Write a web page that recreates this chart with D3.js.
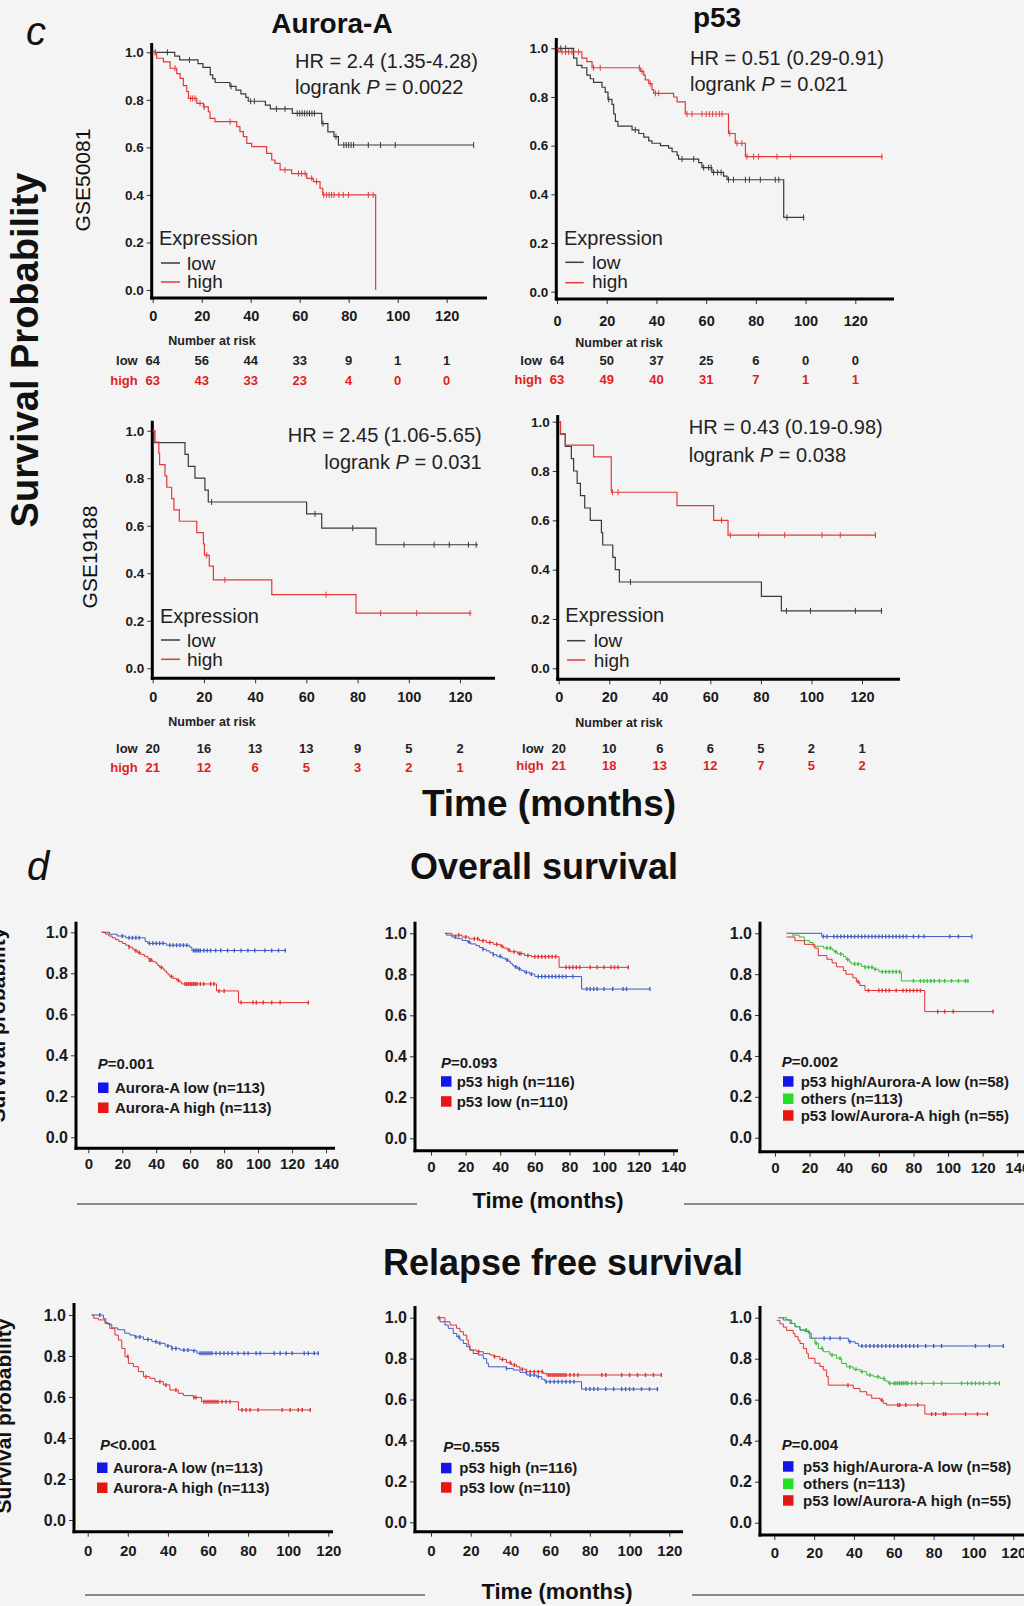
<!DOCTYPE html>
<html><head><meta charset="utf-8">
<script src="https://cdn.jsdelivr.net/npm/d3@7"></script>
<style>body{margin:0;background:#f4f4f4;} svg{display:block;}</style>
</head><body><script>
const FONT = '"Liberation Sans", Arial, Helvetica, sans-serif';

// ---------------- DATA ----------------
const yTickValues = [0, 0.2, 0.4, 0.6, 0.8, 1.0];
const riskTimes = [0, 20, 40, 60, 80, 100, 120];

// c: GSE50081, Aurora-A
const g50081AurLow = [[0,1],[9,0.984],[11,0.968],[18.5,0.952],[20.5,0.937],[23.5,0.905],[24.5,0.889],[25.5,0.873],[31.5,0.857],[34,0.841],[36,0.825],[38,0.81],[39,0.794],[46,0.778],[48,0.762],[57,0.743],[69,0.70],[71.5,0.665],[74,0.645],[75.8,0.61]];
const g50081AurLowCens = [1,6,15,32,40,41.5,50.5,54,59,60,61,62,63,64,65,66,69.5,74.8,78,79,80,81,82,88,93,99,131];
const g50081AurLowEnd = 131;
const g50081AurHigh = [[0,1],[1.6,0.975],[4.4,0.96],[7.1,0.933],[9.8,0.91],[11.2,0.89],[12.5,0.86],[13.9,0.835],[14.6,0.806],[18,0.785],[20.7,0.77],[22.7,0.75],[23.4,0.722],[25.4,0.708],[34.3,0.687],[35.6,0.666],[37,0.645],[38.4,0.617],[40.4,0.603],[46.5,0.575],[48.6,0.547],[49.9,0.533],[52,0.505],[56.7,0.49],[62.9,0.47],[65.6,0.456],[68.3,0.428],[69.4,0.40],[91,0]];
const g50081AurHighCens = [9.1,15.5,16.3,17.3,19.3,21,31.6,54,59.5,60.8,62.2,64.9,66.9,69.8,71,72,73,74,76,77.8,79.9,88,90];
const g50081AurHighEnd = 91;
const g50081AurRiskLow = [64,56,44,33,9,1,1];
const g50081AurRiskHigh = [63,43,33,23,4,0,0];

// c: GSE50081, p53
const g50081P53Low = [[0,1],[6.7,0.96],[8,0.93],[10,0.92],[12,0.89],[13.4,0.875],[14.7,0.86],[18.1,0.84],[19.4,0.82],[20.5,0.79],[22.1,0.77],[22.8,0.73],[23.5,0.70],[24.5,0.68],[30.2,0.665],[32.9,0.65],[34.9,0.635],[36.9,0.62],[38.2,0.61],[41.6,0.60],[44.9,0.59],[46.3,0.575],[48.3,0.56],[48.9,0.545],[57,0.53],[58.3,0.51],[62.3,0.49],[67,0.475],[68.4,0.46],[91.2,0.305]];
const g50081P53LowCens = [1.5,3.5,20.8,31.5,50.3,55,59,61,62,63,64.6,66,69,71,75.8,77.4,81.8,87.8,89.2,92.5,99.2];
const g50081P53LowEnd = 99.5;
const g50081P53High = [[0,1],[0.7,0.985],[10,0.96],[12,0.945],[14.1,0.92],[33.5,0.905],[34.9,0.89],[35.5,0.87],[36.9,0.855],[38.2,0.83],[38.9,0.815],[46.9,0.80],[48.3,0.78],[51.6,0.73],[69,0.65],[71.7,0.61],[75.8,0.555]];
const g50081P53HighCens = [2,3.4,4.7,6,8.7,14.7,17.4,33.1,34.2,37.5,39.6,40.9,52.3,54.3,58.3,60,61.3,62.6,64,65.3,66.4,69.5,72.4,74.4,76.4,79.1,81.1,88.5,93.9,130.7];
const g50081P53HighEnd = 131;
const g50081P53RiskLow = [64,50,37,25,6,0,0];
const g50081P53RiskHigh = [63,49,40,31,7,1,1];

// c: GSE19188, Aurora-A
const g19188AurLow = [[0,1],[0.5,0.95],[12.6,0.90],[13.9,0.85],[16.5,0.80],[20.4,0.75],[21.7,0.70],[60.1,0.65],[66,0.59],[87.2,0.52]];
const g19188AurLowCens = [23,63.4,78.1,98.1,109.9,115.8,123.3,126.3];
const g19188AurLowEnd = 127;
const g19188AurHigh = [[0,1],[0.9,0.952],[2.4,0.905],[2.7,0.857],[4.8,0.81],[5.5,0.762],[7.4,0.714],[8.3,0.667],[10.4,0.619],[17.2,0.571],[19.8,0.524],[20.2,0.476],[22.1,0.43],[23.7,0.372],[46.5,0.31],[79.4,0.232]];
const g19188AurHighCens = [21.1,28.2,67.7,89,103.1,123.9];
const g19188AurHighEnd = 124.5;
const g19188AurRiskLow = [20,16,13,13,9,5,2];
const g19188AurRiskHigh = [21,12,6,5,3,2,1];

// c: GSE19188, p53
const g19188P53Low = [[0,1],[0.7,0.95],[2.6,0.90],[5,0.85],[5.9,0.80],[7.3,0.75],[8.6,0.70],[10.3,0.65],[12.5,0.60],[16.9,0.55],[17.4,0.50],[21.4,0.45],[22.4,0.40],[24,0.35],[80.2,0.292],[88.1,0.233]];
const g19188P53LowCens = [28.4,90.1,99.6,117.4,127.7];
const g19188P53LowEnd = 128;
const g19188P53High = [[0,1],[0.7,0.952],[2.6,0.905],[13.8,0.857],[20.8,0.714],[46.8,0.66],[61.3,0.60],[67,0.54]];
const g19188P53HighCens = [21.3,23.5,64.4,67.9,79.1,89.4,104.2,111.4,125.3];
const g19188P53HighEnd = 125.5;
const g19188P53RiskLow = [20,10,6,6,5,2,1];
const g19188P53RiskHigh = [21,18,13,12,7,5,2];

// d: Overall survival, Aurora-A
const osAurLow = [[7.8,1],[12.5,0.991],[17,0.982],[22,0.973],[33.5,0.955],[35,0.946],[46,0.937],[59.5,0.928],[61,0.911]];
const osAurLowCens = [20,24,26,28,30,36,38,40,42,44,48,50,52,54,56,58,62,63,64,65,66,68,70,72,75,78,82,86,90,94,98,104,108,112,116];
const osAurLowEnd = 116;
const osAurHigh = [[8,1],[10,0.991],[12,0.982],[14,0.973],[16,0.964],[18,0.955],[20,0.946],[22,0.937],[24,0.928],[26,0.919],[27,0.91],[29,0.901],[31,0.892],[33,0.883],[35,0.874],[36,0.865],[38,0.856],[40,0.847],[41,0.838],[42,0.829],[44,0.82],[45,0.811],[46,0.802],[47,0.793],[48,0.784],[50,0.775],[52,0.766],[54,0.757],[55,0.748],[75.5,0.714],[88.5,0.657]];
const osAurHighCens = [24,28,30,36,37,43,49,53,57,58,59,60,61,62,63,64,66,68,72,74,77,80,90,97,99,103,108,113,129.6];
const osAurHighEnd = 129.6;

// d: Overall survival, p53
const osP53High = [[8,1],[9,0.991],[12,0.982],[15,0.974],[18,0.965],[21,0.957],[23,0.948],[26,0.94],[28,0.931],[30,0.922],[32,0.914],[34,0.905],[36,0.896],[38,0.888],[41,0.879],[43,0.87],[45,0.862],[46,0.853],[47,0.844],[48,0.836],[50,0.827],[52,0.818],[54,0.81],[57,0.801],[60,0.789],[87,0.728]];
const osP53HighCens = [14,22,30,36,40,44,49,51,55,58,62,64,66,68,70,72,74,76,78,82,90,92,94,96,100,105,111,113,126.5];
const osP53HighEnd = 126.5;
const osP53Low = [[8,1],[12,0.991],[18,0.982],[22,0.973],[28,0.964],[32,0.955],[36,0.946],[40,0.937],[42,0.928],[44,0.919],[46,0.91],[50,0.901],[54,0.892],[58,0.886],[74,0.834]];
const osP53LowCens = [16,20,25,27,30,34,38,41,45,48,51,52,56,60,62,64,66,68,70,72,78,80,82,84,86,92,96,100,104,106,108,114];
const osP53LowEnd = 114;

// d: Overall survival, combined
const osCombBlue = [[6.7,1],[27,0.984]];
const osCombBlueCens = [28,30,34,36,38,40,42,44,46,48,50,52,54,56,58,60,62,64,66,68,70,72,74,76,80,83,86,101,106,113.7];
const osCombBlueEnd = 113.7;
const osCombGreen = [[6.7,1],[10,0.991],[14,0.982],[17,0.964],[20,0.955],[22,0.937],[28,0.928],[33,0.919],[34,0.91],[36,0.899],[39.5,0.886],[41,0.872],[43,0.86],[44,0.85],[50,0.838],[52,0.834],[57,0.824],[60,0.812],[73,0.767]];
const osCombGreenCens = [30,32,35,38,42,46,48,52,54,56,58,62,64,66,68,70,72,80,84,86,88,90,92,95,98,102,106,110,111.5];
const osCombGreenEnd = 111.5;
const osCombRed = [[6.7,0.982],[11.5,0.964],[17,0.946],[23,0.927],[25,0.891],[30,0.873],[33,0.855],[35.5,0.836],[39.5,0.818],[41,0.80],[45,0.782],[47,0.763],[49,0.745],[52,0.72],[86.5,0.617]];
const osCombRedCens = [48,54,60,62,64,66,70,74,76,78,80,82,84,94,98,103,126];
const osCombRedEnd = 126;

// d: Relapse free survival, Aurora-A
const rfsAurLow = [[2,1],[7.8,0.982],[9,0.964],[10,0.955],[12,0.937],[15,0.928],[18.5,0.911],[21,0.902],[23.5,0.893],[27.8,0.881],[32,0.87],[35,0.862],[38.6,0.849],[42,0.837],[46,0.829],[52,0.826],[54.5,0.813]];
const rfsAurLowCens = [6,24,26,30,34,36,40,42,44,48,50,53,56,57,58,59,60,61,62,64,66,68,70,72,75,78,80,84,86,93,96,99,102,108,110,113,115];
const rfsAurLowEnd = 115;
const rfsAurHigh = [[2,1],[3,0.984],[5.3,0.976],[8.6,0.959],[11,0.935],[13.6,0.902],[15.3,0.878],[17,0.837],[18.6,0.797],[20.3,0.764],[22.8,0.748],[25.3,0.724],[27.8,0.699],[31,0.691],[33.6,0.675],[37.7,0.659],[41,0.634],[45.2,0.618],[47.7,0.607],[52.7,0.598],[56.8,0.577],[75.2,0.537]];
const rfsAurHighCens = [20,29,36,39,44,53,54,58,59,60,61,62,63,64,65,67,69,71,77,79,81,85,97,101,105,107,111];
const rfsAurHighEnd = 111;

// d: Relapse free survival, p53
const rfsP53High = [[2.9,1],[4.5,0.98],[7,0.964],[8.7,0.948],[11.2,0.923],[12.9,0.907],[14.6,0.891],[16.3,0.874],[18,0.858],[19.6,0.842],[21.3,0.825],[23.8,0.818],[26.3,0.80],[28,0.777],[28.9,0.76],[38,0.752],[41.4,0.744],[44.8,0.733],[48.2,0.72],[53.2,0.712],[55.7,0.699],[57.4,0.687],[75.8,0.651]];
const rfsP53HighCens = [14,38,48,50,52,54,58,60,62,64,66,68,70,72,78,80,82,84,88,92,96,98,100,102,106,110,114];
const rfsP53HighEnd = 114.4;
const rfsP53Low = [[3.7,1],[7,0.98],[9.6,0.964],[12.9,0.948],[14.6,0.932],[16.3,0.915],[18,0.891],[18.8,0.866],[19.6,0.842],[23,0.834],[26.3,0.825],[29.7,0.818],[31.4,0.81],[34.7,0.796],[38,0.78],[40.6,0.769],[43.1,0.76],[44.8,0.748],[48.2,0.736],[56.5,0.728],[58.2,0.72]];
const rfsP53LowCens = [4,24,32,36,40,42,46,50,52,54,56,59,60,61,62,63,64,65,66,67,68,70,72,74,86,88,96,100,104,108,112,116];
const rfsP53LowEnd = 116;

// d: Relapse free survival, combined
const rfsCombBlue = [[2,1],[4.5,0.989],[7.9,0.972],[10.4,0.956],[12.9,0.94],[15.4,0.932],[17.9,0.90],[37.2,0.883],[40.5,0.875],[42.2,0.862]];
const rfsCombBlueCens = [25,28,33,38,44,46,48,50,52,54,56,58,60,62,64,66,68,70,72,76,80,84,101,108,115];
const rfsCombBlueEnd = 115;
const rfsCombGreen = [[2,1],[6.2,0.989],[8.7,0.972],[10.4,0.956],[12.9,0.94],[17.1,0.923],[18.7,0.899],[20.4,0.875],[22.1,0.85],[24.6,0.834],[27.9,0.818],[31.3,0.802],[33.8,0.777],[36.3,0.76],[39.7,0.748],[43,0.737],[46.4,0.72],[49.7,0.712],[53.1,0.704],[55.6,0.691],[57.2,0.68]];
const rfsCombGreenCens = [16,21,24,29,33,38,41,44,48,52,55,58,60,61,62,63,64,65,66,67,69,71,74,80,84,94,97,99,101,103,105,108,111,113];
const rfsCombGreenEnd = 113.3;
const rfsCombRed = [[1.2,0.987],[2.8,0.97],[4.5,0.954],[6.2,0.938],[9.5,0.922],[10.4,0.907],[12,0.89],[12.9,0.874],[14.6,0.85],[16.2,0.826],[17.1,0.802],[20.4,0.778],[22.9,0.762],[24.6,0.745],[26.3,0.713],[27.1,0.671],[39.7,0.655],[43,0.639],[46.4,0.623],[48.9,0.607],[53.1,0.598],[54.7,0.582],[56.4,0.574],[75.6,0.53]];
const rfsCombRedCens = [37,54,62,63,66,72,79,81,85,86,96,102,107];
const rfsCombRedEnd = 107.4;

// ---------------- DRAW ----------------
const svg = d3.select('body').append('svg').attr('width', 1024).attr('height', 1606)
  .style('font-family', FONT);
svg.append('rect').attr('width', 1024).attr('height', 1606).attr('fill', '#f4f4f4');

function txt(x, y, s, o) {
  o = o || {};
  const t = svg.append('text').attr('x', x).attr('y', y)
    .attr('font-size', o.fs || 14).attr('font-weight', o.fw || 'normal')
    .attr('font-style', o.it ? 'italic' : 'normal')
    .attr('text-anchor', o.anchor || 'start').attr('fill', o.fill || '#111');
  if (o.rot) t.attr('transform', `rotate(-90,${x},${y})`);
  if (o.html) t.html(s); else t.text(s);
  return t;
}

function survAt(steps, t) {
  let s = steps[0][1];
  for (const st of steps) if (st[0] <= t) s = st[1];
  return s;
}

function drawPanel(p) {
  const g = svg.append('g');
  const x = d3.scaleLinear().domain([0, p.xmax]).range(p.xr);
  const y = d3.scaleLinear().domain([0, 1]).range(p.yr);

  const ya = g.append('g').attr('transform', `translate(${p.ax},0)`)
    .call(d3.axisLeft(y).tickValues(yTickValues).tickFormat(d3.format('.1f')).tickSize(5).tickPadding(3));
  ya.attr('font-family', FONT).attr('font-size', p.yfs);
  ya.select('.domain').remove();
  ya.selectAll('text').attr('font-weight', 'bold').attr('fill', '#1a1a1a');
  ya.selectAll('line').attr('stroke', '#333');

  const xa = g.append('g').attr('transform', `translate(0,${p.ay})`)
    .call(d3.axisBottom(x).tickValues(d3.range(0, p.xmax + 1, 20)).tickSize(5));
  xa.attr('font-family', FONT).attr('font-size', p.xfs);
  xa.select('.domain').remove();
  xa.selectAll('text').attr('font-weight', 'bold').attr('fill', '#1a1a1a').attr('y', p.xlab).attr('dy', 0);
  xa.selectAll('line').attr('stroke', '#333');

  g.append('line').attr('x1', p.ax).attr('x2', p.ax).attr('y1', p.top).attr('y2', p.ay + 1.5)
    .attr('stroke', '#000').attr('stroke-width', 3);
  g.append('line').attr('x1', p.ax - 1.5).attr('x2', p.right).attr('y1', p.ay).attr('y2', p.ay)
    .attr('stroke', '#000').attr('stroke-width', 3);

  const line = d3.line().x(d => x(d[0])).y(d => y(d[1])).curve(d3.curveStepAfter);
  p.series.forEach(s => {
    const pts = s.steps.slice();
    const last = pts[pts.length - 1];
    if (s.end > last[0]) pts.push([s.end, last[1]]);
    g.append('path').attr('d', line(pts)).attr('fill', 'none')
      .attr('stroke', s.color).attr('stroke-width', p.lw);
    g.selectAll(null).data(s.cens).enter().append('line')
      .attr('x1', d => x(d)).attr('x2', d => x(d))
      .attr('y1', d => y(survAt(s.steps, d)) - p.ch / 2)
      .attr('y2', d => y(survAt(s.steps, d)) + p.ch / 2)
      .attr('stroke', s.color).attr('stroke-width', p.cw);
  });
  return { x, y };
}

const cBlack = '#3a3a3a', cRed = '#e23a3a', riskRed = '#e01e1e';
const dBlue = '#3d5cc4', dRed = '#e23030', dGreen = '#35c035';
const sqBlue = '#1515e8', sqRed = '#e81515', sqGreen = '#25e025';

// ---------- panel c ----------
txt(26, 45, 'c', { fs: 40, it: true });
txt(332, 33, 'Aurora-A', { fs: 28, fw: 'bold', anchor: 'middle' });
txt(717, 27, 'p53', { fs: 28, fw: 'bold', anchor: 'middle' });
txt(38, 350, 'Survival Probability', { fs: 38, fw: 'bold', anchor: 'middle', rot: true });
txt(90, 180, 'GSE50081', { fs: 21, anchor: 'middle', rot: true });
txt(97, 557, 'GSE19188', { fs: 21, anchor: 'middle', rot: true });
txt(549, 816, 'Time (months)', { fs: 37, fw: 'bold', anchor: 'middle' });

const cPanels = [
  { ax: 151.7, ay: 298, top: 43, right: 487, xr: [152.7, 446.7], yr: [290, 52.3], xlab: 22.7,
    low: [g50081AurLow, g50081AurLowCens, g50081AurLowEnd], high: [g50081AurHigh, g50081AurHighCens, g50081AurHighEnd],
    hr: 'HR = 2.4 (1.35-4.28)', pv: '0.0022', hrX: 295, hrAnchor: 'start', hrY: [68, 94],
    leg: { ex: 159, ey: 245, lx: [161, 180], ly: [263, 282], tx: 187, ty: [270, 288] },
    riskLow: g50081AurRiskLow, riskHigh: g50081AurRiskHigh, risk: { cx: 212, y: [345, 365, 385] } },
  { ax: 556.3, ay: 299, top: 38, right: 894, xr: [557, 855.3], yr: [291.7, 48.3], xlab: 27,
    low: [g50081P53Low, g50081P53LowCens, g50081P53LowEnd], high: [g50081P53High, g50081P53HighCens, g50081P53HighEnd],
    hr: 'HR = 0.51 (0.29-0.91)', pv: '0.021', hrX: 690, hrAnchor: 'start', hrY: [65, 91],
    leg: { ex: 564, ey: 245, lx: [565.3, 583.7], ly: [262.3, 282.7], tx: 592, ty: [269, 288] },
    riskLow: g50081P53RiskLow, riskHigh: g50081P53RiskHigh, risk: { cx: 619, y: [346.5, 364.5, 383.5] } },
  { ax: 152.3, ay: 678.3, top: 420.7, right: 495, xr: [152.7, 460], yr: [668.3, 430.7], xlab: 23.4,
    low: [g19188AurLow, g19188AurLowCens, g19188AurLowEnd], high: [g19188AurHigh, g19188AurHighCens, g19188AurHighEnd],
    hr: 'HR = 2.45 (1.06-5.65)', pv: '0.031', hrX: 481.7, hrAnchor: 'end', hrY: [442.3, 469],
    leg: { ex: 160, ey: 622.7, lx: [161, 180], ly: [640, 659.3], tx: 187, ty: [647.3, 666] },
    riskLow: g19188AurRiskLow, riskHigh: g19188AurRiskHigh, risk: { cx: 212, y: [726, 752.7, 771.7] } },
  { ax: 557.7, ay: 679.3, top: 415, right: 900, xr: [558.7, 862], yr: [668.3, 421.7], xlab: 22.4,
    low: [g19188P53Low, g19188P53LowCens, g19188P53LowEnd], high: [g19188P53High, g19188P53HighCens, g19188P53HighEnd],
    hr: 'HR = 0.43 (0.19-0.98)', pv: '0.038', hrX: 688.7, hrAnchor: 'start', hrY: [434.3, 462.3],
    leg: { ex: 565.3, ey: 621.7, lx: [567, 585.3], ly: [640.7, 660], tx: 593.7, ty: [646.7, 666.7] },
    riskLow: g19188P53RiskLow, riskHigh: g19188P53RiskHigh, risk: { cx: 619, y: [726.7, 753.3, 770] } }
];

cPanels.forEach(c => {
  const sc = drawPanel({ ax: c.ax, ay: c.ay, top: c.top, right: c.right, xr: c.xr, yr: c.yr, xmax: 120,
    xlab: c.xlab, yfs: 13.5, xfs: 14.5, lw: 1.2, ch: 6, cw: 1,
    series: [
      { steps: c.low[0], cens: c.low[1], end: c.low[2], color: cBlack },
      { steps: c.high[0], cens: c.high[1], end: c.high[2], color: cRed }
    ] });
  txt(c.hrX, c.hrY[0], c.hr, { fs: 20, anchor: c.hrAnchor, fill: '#222' });
  txt(c.hrX, c.hrY[1], `logrank <tspan font-style="italic">P</tspan> = ${c.pv}`, { fs: 20, anchor: c.hrAnchor, fill: '#222', html: true });
  const L = c.leg;
  txt(L.ex, L.ey, 'Expression', { fs: 20, fill: '#222' });
  [[cBlack, 'low'], [cRed, 'high']].forEach((e, i) => {
    svg.append('line').attr('x1', L.lx[0]).attr('x2', L.lx[1]).attr('y1', L.ly[i]).attr('y2', L.ly[i])
      .attr('stroke', e[0]).attr('stroke-width', 1.5);
    txt(L.tx, L.ty[i], e[1], { fs: 19, fill: '#222' });
  });
  txt(c.risk.cx, c.risk.y[0], 'Number at risk', { fs: 12.5, fw: 'bold', anchor: 'middle', fill: '#222' });
  const x0 = sc.x(0);
  txt(x0 - 15, c.risk.y[1], 'low', { fs: 13, fw: 'bold', anchor: 'end', fill: '#222' });
  txt(x0 - 15, c.risk.y[2], 'high', { fs: 13, fw: 'bold', anchor: 'end', fill: riskRed });
  riskTimes.forEach((t, i) => {
    txt(sc.x(t), c.risk.y[1], c.riskLow[i], { fs: 13, fw: 'bold', anchor: 'middle', fill: '#222' });
    txt(sc.x(t), c.risk.y[2], c.riskHigh[i], { fs: 13, fw: 'bold', anchor: 'middle', fill: riskRed });
  });
});

// ---------- panel d ----------
txt(27, 880, 'd', { fs: 40, it: true });
txt(544, 879, 'Overall survival', { fs: 36, fw: 'bold', anchor: 'middle' });
txt(563, 1275, 'Relapse free survival', { fs: 36, fw: 'bold', anchor: 'middle' });
txt(5, 1025, 'Survival probability', { fs: 21, fw: 'bold', anchor: 'middle', rot: true });
txt(11, 1416, 'Survival probability', { fs: 21, fw: 'bold', anchor: 'middle', rot: true });
txt(548, 1207.5, 'Time (months)', { fs: 22, fw: 'bold', anchor: 'middle' });
txt(557, 1599, 'Time (months)', { fs: 22, fw: 'bold', anchor: 'middle' });
[[77, 417, 1204], [684, 1024, 1204], [85, 425, 1595], [692, 1024, 1595]].forEach(l => {
  svg.append('line').attr('x1', l[0]).attr('x2', l[1]).attr('y1', l[2]).attr('y2', l[2])
    .attr('stroke', '#666').attr('stroke-width', 1.5);
});

const dPanels = [
  { ax: 76, ay: 1148.3, top: 921.7, right: 335, xr: [88.3, 326], yr: [1137.3, 932.3], xmax: 140, xlab: 21,
    series: [[osAurLow, osAurLowCens, osAurLowEnd, dBlue], [osAurHigh, osAurHighCens, osAurHighEnd, dRed]],
    p: '=0.001', px: 97.7, py: 1069, sqx: 98, tx: 115, ty: [1093, 1113],
    leg: [[sqBlue, 'Aurora-A low (n=113)'], [sqRed, 'Aurora-A high (n=113)']] },
  { ax: 415, ay: 1150.7, top: 921.7, right: 678, xr: [431, 673.3], yr: [1138.3, 933.3], xmax: 140, xlab: 21,
    series: [[osP53High, osP53HighCens, osP53HighEnd, dBlue], [osP53Low, osP53LowCens, osP53LowEnd, dRed]],
    p: '=0.093', px: 441, py: 1068, sqx: 441, tx: 456.7, ty: [1086.7, 1106.7],
    leg: [[sqBlue, 'p53 high (n=116)'], [sqRed, 'p53 low (n=110)']] },
  { ax: 760, ay: 1151.7, top: 921.7, right: 1024, xr: [775, 1017.3], yr: [1137.7, 933.3], xmax: 140, xlab: 21,
    series: [[osCombBlue, osCombBlueCens, osCombBlueEnd, dBlue], [osCombGreen, osCombGreenCens, osCombGreenEnd, dGreen], [osCombRed, osCombRedCens, osCombRedEnd, dRed]],
    p: '=0.002', px: 781.7, py: 1066.7, sqx: 783, tx: 800.7, ty: [1086.7, 1104, 1120.7],
    leg: [[sqBlue, 'p53 high/Aurora-A low (n=58)'], [sqGreen, 'others (n=113)'], [sqRed, 'p53 low/Aurora-A high (n=55)']] },
  { ax: 74, ay: 1531.7, top: 1303, right: 333, xr: [87.7, 328.3], yr: [1520, 1315], xmax: 120, xlab: 24,
    series: [[rfsAurLow, rfsAurLowCens, rfsAurLowEnd, dBlue], [rfsAurHigh, rfsAurHighCens, rfsAurHighEnd, dRed]],
    p: '&lt;0.001', px: 100, py: 1450, sqx: 97, tx: 113, ty: [1473, 1493],
    leg: [[sqBlue, 'Aurora-A low (n=113)'], [sqRed, 'Aurora-A high (n=113)']] },
  { ax: 415, ay: 1531.7, top: 1306, right: 683, xr: [431, 669.3], yr: [1522.3, 1317.7], xmax: 120, xlab: 24,
    series: [[rfsP53High, rfsP53HighCens, rfsP53HighEnd, dBlue], [rfsP53Low, rfsP53LowCens, rfsP53LowEnd, dRed]],
    p: '=0.555', px: 443.3, py: 1451.7, sqx: 441, tx: 459.3, ty: [1473.3, 1492.7],
    leg: [[sqBlue, 'p53 high (n=116)'], [sqRed, 'p53 low (n=110)']] },
  { ax: 760, ay: 1535, top: 1306, right: 1024, xr: [774.3, 1013.3], yr: [1522.7, 1317.7], xmax: 120, xlab: 23,
    series: [[rfsCombBlue, rfsCombBlueCens, rfsCombBlueEnd, dBlue], [rfsCombGreen, rfsCombGreenCens, rfsCombGreenEnd, dGreen], [rfsCombRed, rfsCombRedCens, rfsCombRedEnd, dRed]],
    p: '=0.004', px: 781.7, py: 1450, sqx: 783, tx: 803, ty: [1471.7, 1489, 1505.7],
    leg: [[sqBlue, 'p53 high/Aurora-A low (n=58)'], [sqGreen, 'others (n=113)'], [sqRed, 'p53 low/Aurora-A high (n=55)']] }
];

dPanels.forEach(d => {
  drawPanel({ ax: d.ax, ay: d.ay, top: d.top, right: d.right, xr: d.xr, yr: d.yr, xmax: d.xmax,
    xlab: d.xlab, yfs: 16, xfs: 15, lw: 1, ch: 4, cw: 1.4,
    series: d.series.map(s => ({ steps: s[0], cens: s[1], end: s[2], color: s[3] })) });
  txt(d.px, d.py, `<tspan font-style="italic">P</tspan>${d.p}`, { fs: 15, fw: 'bold', html: true, fill: '#1a1a1a' });
  d.leg.forEach((e, i) => {
    svg.append('rect').attr('x', d.sqx).attr('y', d.ty[i] - 10.5).attr('width', 10.5).attr('height', 10.5).attr('fill', e[0]);
    txt(d.tx, d.ty[i], e[1], { fs: 15, fw: 'bold', fill: '#1a1a1a' });
  });
});
</script></body></html>
